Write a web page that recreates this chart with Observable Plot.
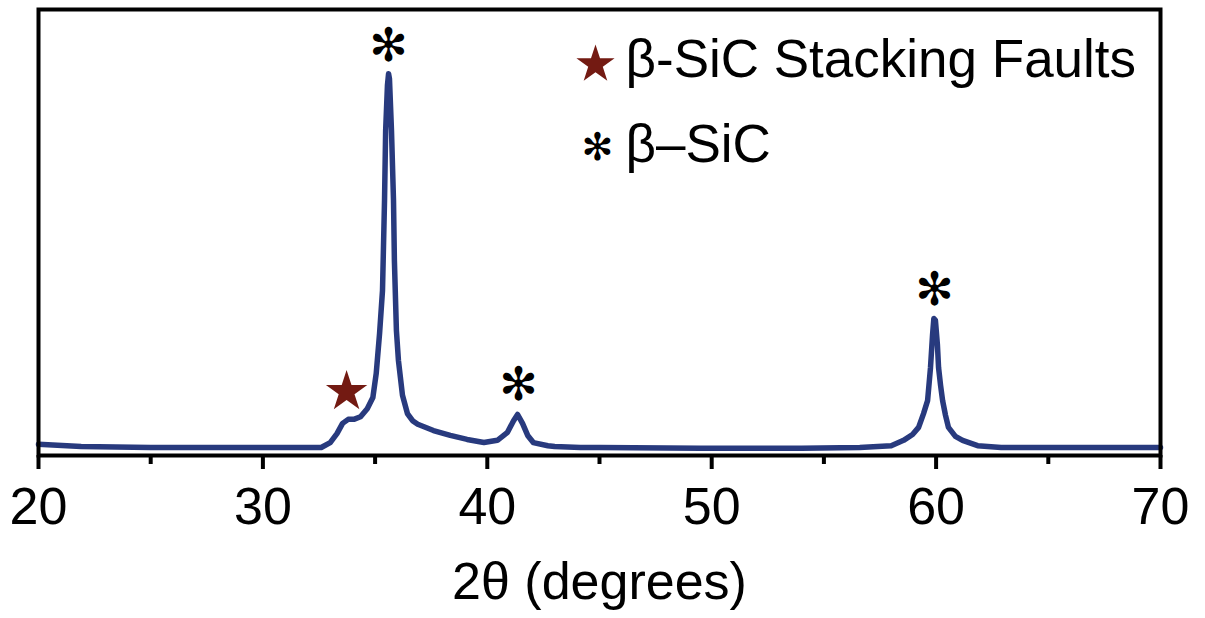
<!DOCTYPE html>
<html><head><meta charset="utf-8">
<script src="https://cdn.jsdelivr.net/npm/d3@7"></script>
<script src="https://cdn.jsdelivr.net/npm/@observablehq/plot@0.6"></script>
<style>body{margin:0;background:#fff}</style>
</head><body><div id="chart"></div>
<script>
const twoTheta = [20.0, 21.9, 25.0, 27.2, 29.5, 31.7, 32.6, 33.0, 33.3, 33.55, 33.8, 34.05, 34.35, 34.65, 34.9, 35.05, 35.2, 35.33, 35.42, 35.47, 35.55, 35.6, 35.64, 35.73, 35.82, 35.86, 35.95, 36.04, 36.22, 36.44, 36.67, 36.9, 37.6, 38.35, 39.1, 39.85, 40.45, 40.9, 41.17, 41.35, 41.57, 41.8, 42.05, 42.7, 43.0, 44.15, 45.0, 49.5, 54.0, 56.6, 58.0, 58.55, 58.95, 59.22, 59.44, 59.62, 59.75, 59.84, 59.9, 59.97, 60.06, 60.11, 60.2, 60.29, 60.42, 60.55, 60.86, 61.18, 61.85, 62.9, 67.3, 70.0];
const intensity = [25, 20, 18, 18, 18, 18, 18, 29, 49, 72, 81, 81, 87, 105, 130, 184, 274, 370, 572, 729, 830, 856, 845, 729, 572, 437, 280, 213, 135, 94, 78, 70, 56, 45, 36, 29, 34, 52, 78, 92, 72, 45, 29, 22, 20, 18, 18, 16, 16, 18, 22, 34, 47, 63, 94, 123, 197, 269, 307, 303, 247, 197, 157, 123, 90, 63, 43, 34, 22, 18, 18, 18];

const sicPeakX = [35.6, 41.39, 59.93];
const sicPeakY = [917, 157, 370];
const faultX = [33.73];
const faultY = [143];

const legendLabels = ["β-SiC Stacking Faults", "β–SiC"];
const axisTitle = "2θ (degrees)";
const majorTicks = [20, 30, 40, 50, 60, 70];
const minorTicks = [25, 35, 45, 55, 65];

const pattern = twoTheta.map((t, i) => ({t, v: intensity[i]}));
const sicPeaks = sicPeakX.map((x, i) => ({x, y: sicPeakY[i]}));
const faults = faultX.map((x, i) => ({x, y: faultY[i]}));

const navy = "#283a7e";
const red = "#731a12";

const chart = Plot.plot({
  width: 1205,
  height: 618,
  marginLeft: 38,
  marginRight: 45,
  marginTop: 9,
  marginBottom: 163,
  x: {domain: [20, 70]},
  y: {domain: [0, 1000], axis: null},
  style: {fontFamily: "'Liberation Sans', Arial, sans-serif", background: "white", color: "black"},
  marks: [
    Plot.line(pattern, {x: "t", y: "v", stroke: navy, strokeWidth: 5.5, strokeLinejoin: "round"}),
    Plot.frame({stroke: "black", strokeWidth: 4}),
    Plot.axisX({ticks: majorTicks, tickSize: 14, tickPadding: 18, fontSize: 52, strokeWidth: 4, label: null, tickFormat: d => String(d)}),
    Plot.axisX({ticks: minorTicks, tickSize: 9, strokeWidth: 4, label: null, tickFormat: () => ""}),
    Plot.text(sicPeaks, {x: "x", y: "y", text: () => "✻", fontSize: 46, fontFamily: "DejaVu Sans", fill: "black"}),
    Plot.dot(faults, {x: "x", y: "y", symbol: "star", r: 13, fill: red, stroke: "none"}),
    // legend
    Plot.dot([0], {frameAnchor: "top-left", dx: 557, dy: 55, symbol: "star", r: 12, fill: red, stroke: "none"}),
    Plot.text([legendLabels[0]], {frameAnchor: "top-left", dx: 587, dy: 51, textAnchor: "start", lineAnchor: "middle", fontSize: 53, fill: "black"}),
    Plot.text(["✻"], {frameAnchor: "top-left", dx: 559, dy: 138, textAnchor: "middle", lineAnchor: "middle", fontSize: 38, fontFamily: "DejaVu Sans", fill: "black"}),
    Plot.text([legendLabels[1]], {frameAnchor: "top-left", dx: 587, dy: 136, textAnchor: "start", lineAnchor: "middle", fontSize: 53, fill: "black"}),
    Plot.text([axisTitle], {frameAnchor: "bottom", dy: 127, fontSize: 52, lineAnchor: "middle", fill: "black"})
  ]
});
document.getElementById("chart").appendChild(chart);
</script>
</body></html>
